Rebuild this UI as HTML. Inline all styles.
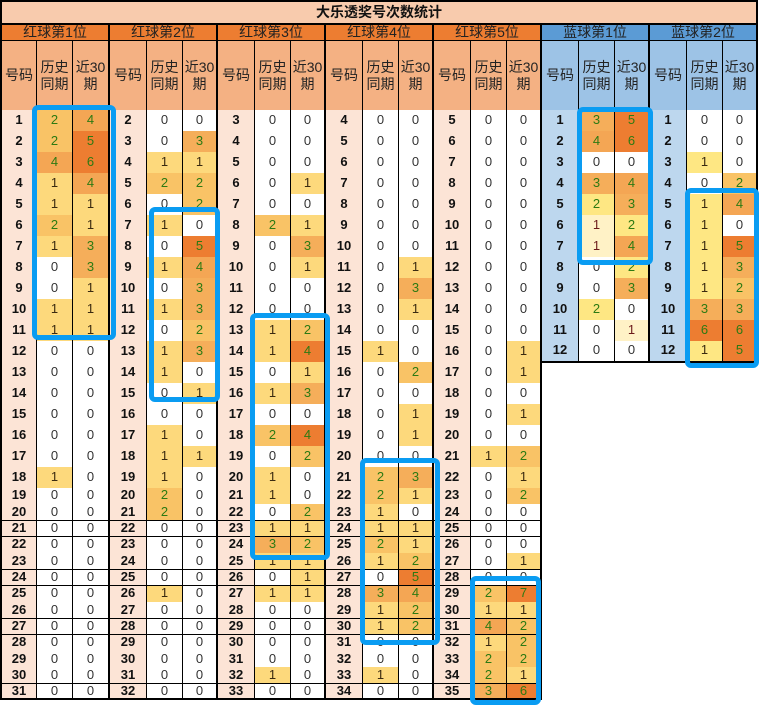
<!DOCTYPE html>
<html><head><meta charset="utf-8">
<style>
body{margin:0;width:765px;height:709px;background:#fff;position:relative;overflow:hidden;font-family:"Liberation Sans","Noto Sans CJK SC",sans-serif;}
.c{position:absolute;box-sizing:border-box;display:flex;align-items:center;justify-content:center;text-align:center;border-right:1px solid #000;border-bottom:1px solid #000;font-size:13px;color:#222;line-height:1.15;}
.hd{font-size:14px;}
.b{position:absolute;box-sizing:border-box;border:5px solid #0a9cf2;border-radius:6px;}
</style></head><body>
<div class="c" style="left:0;top:0;width:758px;height:25px;background:#f8cbad;border:2px solid #000;font-weight:bold;font-size:14px;color:#111;">大乐透奖号次数统计</div>
<div id="t"></div>
<script>
var G=[
{n:"红球第1位",s:1,h:[2,2,4,1,1,2,1,0,0,1,1,0,0,0,0,0,0,1,0,0,0,0,0,0,0,0,0,0,0,0,0],r:[4,5,6,4,1,1,3,3,1,1,1,0,0,0,0,0,0,0,0,0,0,0,0,0,0,0,0,0,0,0,0]},
{n:"红球第2位",s:2,h:[0,0,1,2,0,1,0,1,0,1,0,1,1,0,0,1,1,1,2,2,0,0,0,0,1,0,0,0,0,0,0],r:[0,3,1,2,2,0,5,4,3,3,2,3,0,1,0,0,1,0,0,0,0,0,0,0,0,0,0,0,0,0,0]},
{n:"红球第3位",s:3,h:[0,0,0,0,0,2,0,0,0,0,1,1,0,1,0,2,0,1,1,0,1,3,1,0,1,0,0,0,0,1,0],r:[0,0,0,1,0,1,3,1,0,0,2,4,1,3,0,4,2,0,0,2,1,2,1,1,1,0,0,0,0,0,0]},
{n:"红球第4位",s:4,h:[0,0,0,0,0,0,0,0,0,0,0,1,0,0,0,0,0,2,2,1,1,2,1,0,3,1,1,0,0,1,0],r:[0,0,0,0,0,0,0,1,3,1,0,0,2,0,1,1,0,3,1,0,1,1,2,5,4,2,2,0,0,0,0]},
{n:"红球第5位",s:5,h:[0,0,0,0,0,0,0,0,0,0,0,0,0,0,0,0,1,0,0,0,0,0,0,0,2,1,4,1,2,2,3],r:[0,0,0,0,0,0,0,0,0,0,0,1,1,0,1,0,2,1,2,0,0,0,1,0,7,1,2,2,2,1,6]},
{n:"蓝球第1位",s:1,blue:1,h:[3,4,0,3,2,1,1,0,0,2,0,0],r:[5,6,0,4,3,2,4,2,3,0,1,0]},
{n:"蓝球第2位",s:1,blue:1,h:[0,0,1,0,1,1,1,1,1,3,6,1],r:[0,0,0,2,4,0,5,3,2,3,6,5]}
];
var gx=[0,110,218,326,434,542,650,758];
function rowY(i){return i<18?110+i*21:488+(i-18)*16.31;}
var base={1:"#fdd97c",2:"#f9c366",3:"#f5ae5a",4:"#f4a654"};
function col(v,k){if(!v)return"#fff";if(v>=5)return"#ed7d31";if(k==2&&v==4)return"#ed7d31";if(k==5){if(v==1)return"#fff2c6";if(v==2)return"#fee783";}if(k==6&&v==1)return"#fee783";return base[v];}
var o="";
G.forEach(function(g,k){
 var x=gx[k],w=gx[k+1]-x,cx=[x,x+37,x+73,gx[k+1]];
 var bl=k==0?"border-left:2px solid #000;":"";
 var rr="border-right:2px solid #000;";
 o+='<div class="c hd" style="left:'+x+'px;top:25px;width:'+w+'px;height:16px;background:'+(g.blue?"#5b9bd5":"#ed7d31")+';'+bl+rr+'">'+g.n+'</div>';
 var hb=g.blue?"#9dc3e6":"#f4b183",nb=g.blue?"#bdd7ee":"#fce4d6";
 var hl=["号码","历史<br>同期","近30<br>期"];
 for(var j=0;j<3;j++){o+='<div class="c hd" style="left:'+cx[j]+'px;top:41px;width:'+(cx[j+1]-cx[j])+'px;height:70px;background:'+hb+';'+(j==0?bl:"")+(j==2?rr:"")+'">'+hl[j]+'</div>';}
 for(var i=0;i<g.h.length;i++){
  var y=rowY(i),h=rowY(i+1)-y;
  var cells=[[g.s+i,nb,"font-weight:bold;color:#111;"],[g.h[i],col(g.h[i],k),""],[g.r[i],col(g.r[i],k),""]];
  for(var j=0;j<3;j++){var v=cells[j][0];var tc=j==0?"":(v>=2?"color:#2d7a12;":(v==1?"color:"+(k==5?"#6b1a1a":"#3a2a10")+";":"color:#333;"));
   o+='<div class="c" style="left:'+cx[j]+'px;top:'+y.toFixed(1)+'px;width:'+(cx[j+1]-cx[j])+'px;height:'+(h+0.5).toFixed(1)+'px;background:'+cells[j][1]+';'+cells[j][2]+tc+(j==0?bl:"")+(j==2?rr:"")+(i==g.h.length-1?"border-bottom:2px solid #000;":"")+'">'+v+'</div>';}
 }
});
var B=[[32,105,84,235],[149,207,71,195],[250,313,80,247],[360,458,80,187],[470,576,71,129],[577,107,76,158],[685,188,74,180]];
B.forEach(function(b){o+='<div class="b" style="left:'+b[0]+'px;top:'+b[1]+'px;width:'+b[2]+'px;height:'+b[3]+'px"></div>';});
document.getElementById("t").innerHTML=o;
</script>
</body></html>
